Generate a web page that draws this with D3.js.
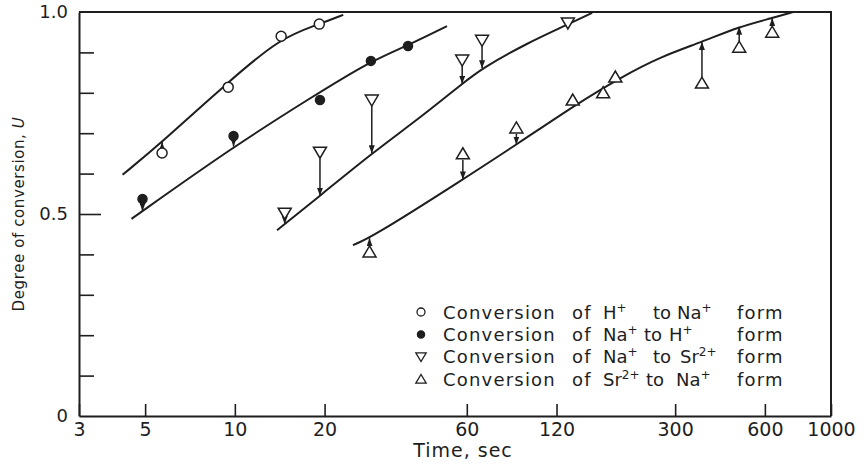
<!DOCTYPE html>
<html>
<head>
<meta charset="utf-8">
<script src="https://cdn.jsdelivr.net/npm/d3@7"></script>
<style>
  body { margin: 0; background: #fff; }
  text { font-family: "DejaVu Sans", sans-serif; fill: #1e1e1e; }
</style>
</head>
<body>
<svg id="chart" width="865" height="464"></svg>
<script>
// measured points: time (sec) and degree of conversion U
const hNaT = [5.7, 9.5, 14.3, 19.2];
const hNaU = [0.651, 0.814, 0.94, 0.97];
const hNaArrow = [true, false, false, false];

const naHT = [4.9, 9.9, 19.3, 28.6, 38.1];
const naHU = [0.537, 0.693, 0.782, 0.879, 0.916];
const naHArrow = [true, true, false, false, false];

const naSrT = [14.7, 19.3, 28.8, 57.9, 67.5, 131];
const naSrU = [0.502, 0.653, 0.782, 0.881, 0.93, 0.973];
const naSrArrow = [true, true, true, true, true, false];

const srNaT = [28.3, 58.2, 88, 136, 172, 189, 369, 492, 635];
const srNaU = [0.406, 0.649, 0.713, 0.782, 0.80, 0.839, 0.824, 0.913, 0.95];
const srNaArrow = [true, true, true, false, false, false, true, true, true];

// fitted curves
const fitHNaT = [4.2, 5.7, 9.41, 14.2, 18.9, 23.1];
const fitHNaU = [0.597, 0.678, 0.824, 0.936, 0.968, 0.993];

const fitNaHT = [4.5, 9.86, 17.9, 28.6, 37.8, 51.5];
const fitNaHU = [0.488, 0.666, 0.787, 0.879, 0.916, 0.965];

const fitNaSrT = [13.85, 19.3, 28.9, 41.8, 57.8, 67.6, 95.7, 130, 158];
const fitNaSrU = [0.460, 0.545, 0.651, 0.738, 0.822, 0.861, 0.923, 0.968, 0.998];

const fitSrNaT = [24.9, 28.9, 57.8, 88.5, 142, 196, 267, 370, 488, 635, 747];
const fitSrNaU = [0.423, 0.443, 0.584, 0.673, 0.775, 0.837, 0.889, 0.926, 0.963, 0.985, 1.0];

const xTicks = [3, 5, 10, 20, 60, 120, 300, 600, 1000];
const yTicks = [0, 0.1, 0.2, 0.3, 0.4, 0.5, 0.6, 0.7, 0.8, 0.9, 1.0];
const yLabels = {0: "0", 0.5: "0.5", 1: "1.0"};

const svg = d3.select("#chart");
const x = d3.scaleLog().domain([3, 1000]).range([79, 831]);
const y = d3.scaleLinear().domain([0, 1]).range([416, 12]);
const ink = "#1e1e1e";

svg.append("defs").append("marker")
    .attr("id", "head")
    .attr("viewBox", "0 0 8 6")
    .attr("refX", 8).attr("refY", 3)
    .attr("markerWidth", 8).attr("markerHeight", 6)
    .attr("markerUnits", "userSpaceOnUse")
    .attr("orient", "auto")
    .append("path").attr("d", "M0,0 L8,3 L0,6 Z").attr("fill", ink);

// frame top and right
svg.append("path")
    .attr("d", `M${x(3)},${y(1)} H${x(1000)} V${y(0)}`)
    .attr("fill", "none").attr("stroke", ink).attr("stroke-width", 2);

// axes
const xAxis = svg.append("g")
    .attr("transform", `translate(0,${y(0)})`)
    .call(d3.axisBottom(x).tickValues(xTicks).tickFormat(d3.format("d"))
        .tickSizeInner(-12).tickSizeOuter(0).tickPadding(7));
xAxis.selectAll("text").attr("font-size", 19);

const yAxis = svg.append("g")
    .attr("transform", `translate(${x(3)},0)`)
    .call(d3.axisLeft(y).tickValues(yTicks).tickFormat(d => yLabels[d] || "")
        .tickSizeInner(-15).tickSizeOuter(0).tickPadding(11));
yAxis.selectAll("text").attr("font-size", 18);
yAxis.selectAll(".tick line").filter(d => d === 0.5).attr("x2", 22);
yAxis.selectAll(".tick line").filter(d => d === 0 || d === 1).remove();

svg.selectAll(".domain").attr("stroke", ink).attr("stroke-width", 2);
svg.selectAll(".tick line").attr("stroke", ink).attr("stroke-width", 1.6);
svg.selectAll(".tick text").attr("fill", ink).attr("font-family", "DejaVu Sans, sans-serif");

// axis titles
svg.append("text")
    .attr("x", 463).attr("y", 457)
    .attr("text-anchor", "middle").attr("font-size", 19)
    .style("letter-spacing", "1px")
    .text("Time, sec");

const yTitle = svg.append("text")
    .attr("transform", "translate(24,214) rotate(-90)")
    .attr("text-anchor", "middle").attr("font-size", 15)
    .style("letter-spacing", "0.6px");
yTitle.append("tspan").text("Degree of conversion, ");
yTitle.append("tspan").attr("font-style", "italic").text("U");

// curves
const line = d3.line().x(d => x(d[0])).y(d => y(d[1])).curve(d3.curveBasis);
const fits = [
    [fitHNaT, fitHNaU], [fitNaHT, fitNaHU], [fitNaSrT, fitNaSrU], [fitSrNaT, fitSrNaU]
];
fits.forEach(([ts, us]) => {
    svg.append("path")
        .datum(ts.map((t, i) => [t, us[i]]))
        .attr("d", line)
        .attr("fill", "none").attr("stroke", ink).attr("stroke-width", 2);
});

// value of a fitted curve at time t (interpolated in log time)
function fitAt(ts, us, t) {
    for (let i = 0; i < ts.length - 1; i++) {
        if (t >= ts[i] && t <= ts[i + 1]) {
            const f = (Math.log(t) - Math.log(ts[i])) / (Math.log(ts[i + 1]) - Math.log(ts[i]));
            return us[i] + f * (us[i + 1] - us[i]);
        }
    }
    return t < ts[0] ? us[0] : us[us.length - 1];
}

const shapes = {
    open: "M5,0 A5,5 0 1,1 -5,0 A5,5 0 1,1 5,0 Z",
    filled: "M4.5,0 A4.5,4.5 0 1,1 -4.5,0 A4.5,4.5 0 1,1 4.5,0 Z",
    down: "M-6.5,-5 L6.5,-5 L0,6 Z",
    up: "M-6.5,5 L6.5,5 L0,-6 Z"
};

const series = [
    {t: hNaT, u: hNaU, arrow: hNaArrow, fit: fits[0], shape: "open", fill: "#fff"},
    {t: naHT, u: naHU, arrow: naHArrow, fit: fits[1], shape: "filled", fill: ink},
    {t: naSrT, u: naSrU, arrow: naSrArrow, fit: fits[2], shape: "down", fill: "#fff"},
    {t: srNaT, u: srNaU, arrow: srNaArrow, fit: fits[3], shape: "up", fill: "#fff"}
];

series.forEach(s => {
    const pts = s.t.map((t, i) => ({t: t, u: s.u[i], arrow: s.arrow[i]}));
    // arrows from the point to the fitted curve
    svg.append("g").selectAll("line")
        .data(pts.filter(d => d.arrow))
        .join("line")
        .attr("x1", d => x(d.t)).attr("x2", d => x(d.t))
        .attr("y1", d => {
            const f = fitAt(s.fit[0], s.fit[1], d.t);
            return y(d.u) + (f > d.u ? -6 : 6);
        })
        .attr("y2", d => y(fitAt(s.fit[0], s.fit[1], d.t)))
        .attr("stroke", ink).attr("stroke-width", 1.5)
        .attr("marker-end", "url(#head)");
    svg.append("g").selectAll("path")
        .data(pts)
        .join("path")
        .attr("transform", d => `translate(${x(d.t)},${y(d.u)})`)
        .attr("d", shapes[s.shape])
        .attr("fill", s.fill).attr("stroke", ink).attr("stroke-width", 1.5);
});

// legend
const legendRows = [
    {shape: "open", fill: "#fff", a: "H", aSup: "+", toX: 653, b: "Na", bX: 677, bSup: "+"},
    {shape: "filled", fill: ink, a: "Na", aSup: "+", toX: 644, b: "H", bX: 669, bSup: "+"},
    {shape: "down", fill: "#fff", a: "Na", aSup: "+", toX: 653, b: "Sr", bX: 680, bSup: "2+"},
    {shape: "up", fill: "#fff", a: "Sr", aSup: "2+", toX: 646, b: "Na", bX: 676, bSup: "+"}
];
const legend = svg.append("g");
legendRows.forEach((r, i) => {
    const cy = 312 + i * 22.4;
    legend.append("path")
        .attr("transform", `translate(421,${cy}) scale(0.8)`)
        .attr("d", shapes[r.shape])
        .attr("fill", r.fill).attr("stroke", ink).attr("stroke-width", 1.6);
    const base = cy + 6.5;
    const add = (tx, str, ls) => legend.append("text")
        .attr("x", tx).attr("y", base).attr("font-size", 18)
        .style("letter-spacing", ls + "px").text(str);
    add(443, "Conversion", 1.2);
    add(572, "of", 1.2);
    const a = add(603, r.a, 0);
    a.append("tspan").attr("dy", -7).attr("font-size", 12).text(r.aSup);
    add(r.toX, "to", 0);
    const b = add(r.bX, r.b, 0);
    b.append("tspan").attr("dy", -7).attr("font-size", 12).text(r.bSup);
    add(737, "form", 1.2);
});
</script>
</body>
</html>
